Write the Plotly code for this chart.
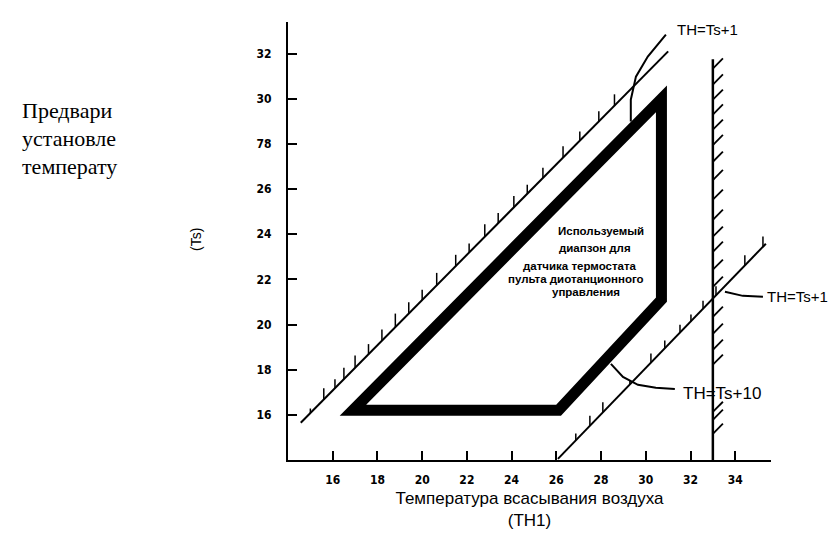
import numpy as np
import plotly.graph_objects as go

# ---------------- data ----------------
TH_TICKS = [16, 18, 20, 22, 24, 26, 28, 30, 32, 34]
TS_TICKS = [16, 18, 20, 22, 24, 26, 28, 30, 32]
TS_TICK_TEXT = ["16", "18", "20", "22", "24", "26", "78", "30", "32"]

# usable range polygon (TH1, Ts)
RANGE_TH = [16.9, 26.1, 30.7, 30.7]
RANGE_TS = [16.2, 16.2, 21.1, 30.0]

# upper boundary line (TH = Ts + 1 label)
UPPER_TH = [14.57, 31.0]
UPPER_TS = [15.65, 32.1]
UPPER_TICK_TH = [15.0, 15.6, 16.1, 16.5, 17.0, 17.6, 18.2, 18.8, 19.4, 20.0, 20.65,
                 21.5, 22.1, 22.8, 23.4, 24.1, 24.7, 25.4, 26.3, 27.05, 27.9, 28.6]
UPPER_TICK_LEN = [0.2, 0.5, 0.4, 0.5, 0.55, 0.45, 0.5, 0.6, 0.5, 0.45, 0.55,
                  0.5, 0.4, 0.55, 0.45, 0.5, 0.4, 0.45, 0.5, 0.4, 0.45, 0.5]

# lower boundary line
LOWER_TH = [26.07, 35.37]
LOWER_TS = [14.05, 23.58]
LOWER_TICK_TH = [26.87, 27.5, 28.08, 29.29, 30.23, 30.85, 31.53, 32.02, 32.56,
                 33.14, 34.43, 35.24]
LOWER_TICK_LEN = [0.3, 0.45, 0.45, 0.15, 0.4, 0.35, 0.35, 0.3, 0.35, 0.4, 0.45, 0.45]

# vertical hatched limit TH1 = 33
LIMIT_TH = [33.0, 33.0]
LIMIT_TS = [14.0, 31.75]
HATCH_TS = [31.34, 30.63, 29.96, 29.30, 28.63, 27.95, 27.21, 26.4, 25.53, 24.64,
            23.89, 23.22, 22.43, 21.67, 20.34, 19.59, 18.88, 18.22, 16.13, 15.78, 15.16]

# callout curves
CALL1_TH = [30.90, 30.09, 29.56, 29.33, 29.33]
CALL1_TS = [32.84, 31.87, 30.98, 29.96, 28.99]
CALL2_TH = [28.44, 28.98, 29.65, 30.45, 31.30]
CALL2_TS = [18.26, 17.68, 17.33, 17.20, 17.15]
CALL3_TH = [33.54, 34.34, 35.24]
CALL3_TS = [21.45, 21.27, 21.23]

RANGE_TEXT = ["Используемый", "диапзон для", "датчика термостата",
              "пульта диотанционного", "управления"]
LEFT_TEXT = ["Предвари", "установле", "температу"]

# ---------------- figure ----------------
W, H = 836, 541
ML, MR, MT, MB = 280, 73, 14, 89
X0, X1 = 14.0, 35.6
Y0, Y1 = 14.0, 33.4

fig = go.Figure()

def seg_trace(xs, ys, width=2):
    fig.add_trace(go.Scatter(x=xs, y=ys, mode="lines",
                             line=dict(color="black", width=width),
                             hoverinfo="skip", showlegend=False, cliponaxis=False))

seg_trace(UPPER_TH, UPPER_TS, 2)
seg_trace(LOWER_TH, LOWER_TS, 2)
seg_trace(LIMIT_TH, LIMIT_TS, 2.5)

def strokes(th_list, len_list, line_th, line_ts):
    xs, ys = [], []
    for th, ln in zip(th_list, len_list):
        base = float(np.interp(th, line_th, line_ts))
        xs += [th, th, None]
        ys += [base, base + ln, None]
    return xs, ys

xs, ys = strokes(UPPER_TICK_TH, UPPER_TICK_LEN, UPPER_TH, UPPER_TS)
seg_trace(xs, ys, 1.5)
xs, ys = strokes(LOWER_TICK_TH, LOWER_TICK_LEN, LOWER_TH, LOWER_TS)
seg_trace(xs, ys, 1.5)

hx, hy = [], []
for t in HATCH_TS:
    hx += [LIMIT_TH[0], LIMIT_TH[0] + 0.45, None]
    hy += [t, t + 0.45, None]
seg_trace(hx, hy, 1.8)

seg_trace(CALL1_TH, CALL1_TS, 2)
seg_trace(CALL2_TH, CALL2_TS, 2)
seg_trace(CALL3_TH, CALL3_TS, 2)

path = "M " + " L ".join(f"{x},{y}" for x, y in zip(RANGE_TH, RANGE_TS)) + " Z"
fig.add_shape(type="path", path=path, xref="x", yref="y",
              line=dict(color="black", width=11), fillcolor="rgba(0,0,0,0)")

tick_font = dict(family="Liberation Sans Narrow, DejaVu Sans Condensed, Arial Narrow, sans-serif",
                 size=12, color="black", weight="bold")

fig.update_xaxes(range=[X0, X1], tickvals=TH_TICKS, ticktext=[str(v) for v in TH_TICKS],
                 showline=True, linecolor="black", linewidth=2, ticks="inside",
                 ticklen=9, tickwidth=2, tickcolor="black", showgrid=False,
                 zeroline=False, tickfont=tick_font, ticklabelstandoff=8,
                 title=dict(text="Температура всасывания воздуха<br>(TH1)",
                            font=dict(family="Liberation Sans, Arial, sans-serif",
                                      size=17, color="black"),
                            standoff=6))
fig.update_yaxes(range=[Y0, Y1], tickvals=TS_TICKS, ticktext=TS_TICK_TEXT,
                 showline=True, linecolor="black", linewidth=2, ticks="inside",
                 ticklen=9, tickwidth=2, tickcolor="black", showgrid=False,
                 zeroline=False, tickfont=tick_font, ticklabelstandoff=12)

def px2paper(px, py):
    return (px - ML) / (W - ML - MR), 1 - (py - MT) / (H - MT - MB)

ann = []
lab_font = dict(family="Liberation Sans, Arial, sans-serif", color="black")
ann.append(dict(x=31.3, y=33.07, xref="x", yref="y", text="TH=Ts+1", showarrow=False,
                xanchor="left", yanchor="middle", font=dict(lab_font, size=15)))
ann.append(dict(x=31.57, y=16.93, xref="x", yref="y", text="TH=Ts+10", showarrow=False,
                xanchor="left", yanchor="middle", font=dict(lab_font, size=17)))
ann.append(dict(x=35.33, y=21.23, xref="x", yref="y", text="TH=Ts+1", showarrow=False,
                xanchor="left", yanchor="middle", font=dict(lab_font, size=15)))

centers = [(593, 223), (587, 240), (572, 258), (568, 271), (578, 284)]
for t, (cx, cy) in zip(RANGE_TEXT, centers):
    px, py = px2paper(cx, cy)
    ann.append(dict(x=px, y=py, xref="paper", yref="paper", text=t, showarrow=False,
                    xanchor="center", yanchor="middle",
                    font=dict(family="Liberation Sans, Arial, sans-serif", size=11.5,
                              color="black", weight="bold")))

px, py = px2paper(188, 232)
ann.append(dict(x=px, y=py, xref="paper", yref="paper", text="(Ts)", showarrow=False,
                textangle=-90, xanchor="center", yanchor="middle",
                font=dict(family="Liberation Sans, Arial, sans-serif", size=14, color="black")))

for t, yy in zip(LEFT_TEXT, [102, 130, 158]):
    px, py = px2paper(12, yy)
    ann.append(dict(x=px, y=py, xref="paper", yref="paper", text=t, showarrow=False,
                    xanchor="left", yanchor="middle",
                    font=dict(family="Liberation Serif, Times New Roman, serif",
                              size=22, color="black")))

fig.update_layout(width=W, height=H, margin=dict(l=ML, r=MR, t=MT, b=MB),
                  paper_bgcolor="white", plot_bgcolor="white",
                  showlegend=False, annotations=ann)

fig.write_html("out.html")
